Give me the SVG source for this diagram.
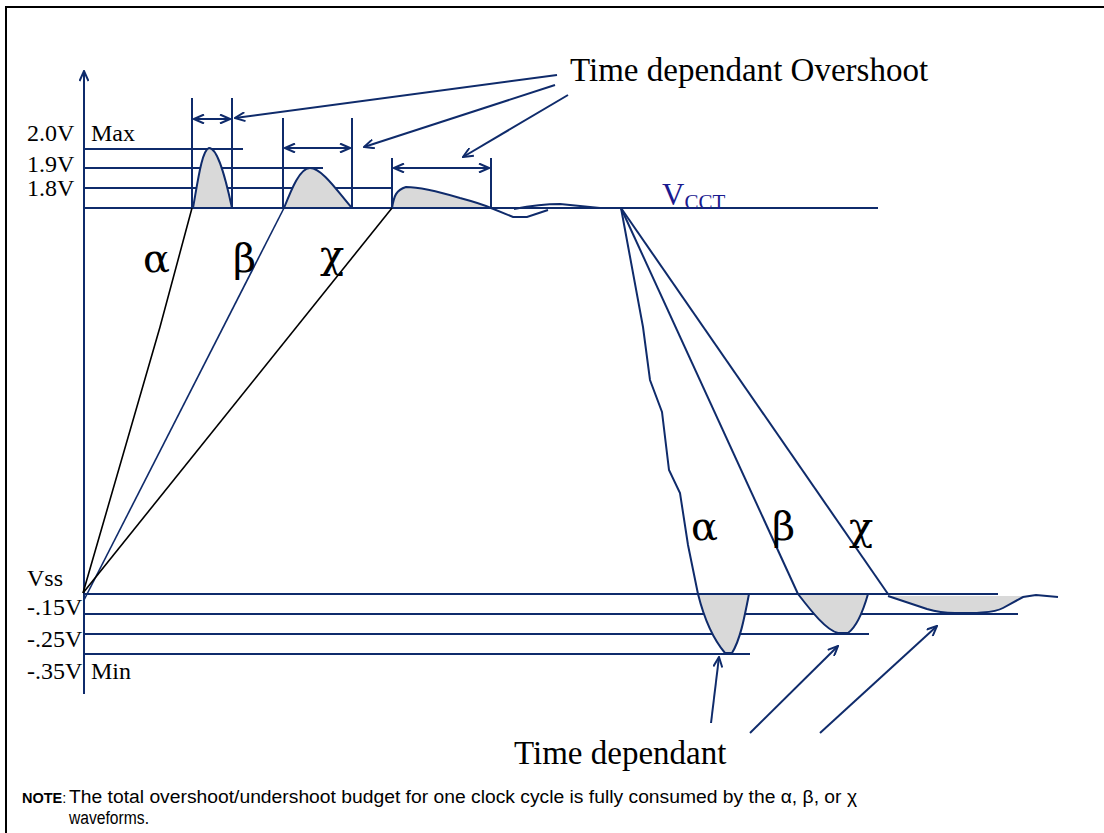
<svg xmlns="http://www.w3.org/2000/svg" width="1104" height="833" viewBox="0 0 1104 833">
<defs>
<marker id="ah" viewBox="0 0 12 10" refX="11" refY="5" markerWidth="12" markerHeight="10" markerUnits="userSpaceOnUse" orient="auto-start-reverse">
<path d="M1,0.5 L11,5 L1,9.5" fill="none" stroke="#0f2b6b" stroke-width="2"/>
</marker>
<style>
.ln{stroke:#0f2b6b;stroke-width:2;fill:none}
.blk{stroke:#000;stroke-width:1.6;fill:none}
.wave{stroke:#0f2b6b;stroke-width:2;fill:#d9d9d9}
.arr{stroke:#0f2b6b;stroke-width:2;fill:none;marker-end:url(#ah)}
.darr{stroke:#0f2b6b;stroke-width:2;fill:none;marker-end:url(#ah);marker-start:url(#ah)}
.lab{font-family:"Liberation Serif","Times New Roman",serif;font-size:24px;fill:#000}
.greek{font-family:"DejaVu Serif","Liberation Serif",serif;font-size:40px;fill:#000}
.big{font-family:"Liberation Serif","Times New Roman",serif;font-size:33px;fill:#000}
.note{font-family:"Liberation Sans",Arial,sans-serif;font-size:18px;fill:#000}
</style>
</defs>
<rect width="1104" height="833" fill="#fff"/>
<g id="frame">
<path d="M6,833 L6,7 L1104,7" fill="none" stroke="#000" stroke-width="2"/>
</g>
<g id="axes">
<line class="arr" x1="84" y1="694" x2="84" y2="71"/>
<line class="ln" x1="84" y1="149" x2="243" y2="149"/>
<line class="ln" x1="84" y1="168" x2="323" y2="168"/>
<line class="ln" x1="84" y1="188" x2="392" y2="188"/>
<line class="ln" x1="84" y1="208" x2="878" y2="208"/>
<line class="ln" x1="84" y1="594" x2="998" y2="594"/>
<line class="ln" x1="84" y1="614" x2="1018" y2="614"/>
<line class="ln" x1="84" y1="634" x2="869" y2="634"/>
<line class="ln" x1="84" y1="654" x2="750" y2="654"/>
</g>
<g id="labels">
<text class="lab" x="27" y="141">2.0V</text>
<text class="lab" x="91" y="141">Max</text>
<text class="lab" x="27" y="172">1.9V</text>
<text class="lab" x="27" y="196">1.8V</text>
<text class="lab" x="27" y="586">Vss</text>
<text class="lab" x="27" y="615">-.15V</text>
<text class="lab" x="27" y="647">-.25V</text>
<text class="lab" x="27" y="679">-.35V</text>
<text class="lab" x="91" y="679">Min</text>
<text x="662" y="205" font-family="'Liberation Serif','Times New Roman',serif" font-size="31" fill="#1a1a8f">V<tspan font-size="21" dy="4">CCT</tspan></text>
</g>
<g id="overshoot-waves">
<path class="wave" d="M193,208 C198,180 202,150 209,148 C218,148 226,180 232,208 Z"/>
<path class="wave" d="M284,208 C292,188 300,168 310,168 C322,168 338,192 352,208 Z"/>
<path class="wave" d="M392,208 C394,196 396,190 406,187 C420,187 440,192 460,198 C475,202 484,205 491,208 Z"/>
<path class="ln" d="M491,208 L513,217 L527,217 L548,210"/>
<path class="ln" d="M514,209 Q540,204 560,204 L600,208 L621,208"/>
<line class="ln" x1="192" y1="98" x2="192" y2="208"/>
<line class="ln" x1="232" y1="98" x2="232" y2="208"/>
<line class="ln" x1="283" y1="118" x2="283" y2="208"/>
<line class="ln" x1="352" y1="118" x2="352" y2="208"/>
<line class="ln" x1="392" y1="158" x2="392" y2="208"/>
<line class="ln" x1="491" y1="158" x2="491" y2="208"/>
</g>
<g id="rising-edges">
<path class="blk" d="M83,593 L160,327 L192,208"/>
<path class="ln" style="stroke-width:1.6" d="M84,600 L284,208"/>
<path class="blk" d="M83,593 L392,208"/>
<text class="greek" x="143" y="272">α</text>
<text class="greek" x="233" y="272">β</text>
<text class="greek" x="320" y="268">χ</text>
</g>
<g id="falling-edges">
<path class="ln" d="M621,208 L643,327 L650,380 L662,412 L669,470 L680,493 L688,545 L698,594"/>
<path class="ln" d="M621,208 L798,594"/>
<path class="ln" d="M621,208 L888,594"/>
<text class="greek" x="691" y="540">α</text>
<text class="greek" x="772" y="540">β</text>
<text class="greek" x="849" y="540">χ</text>
</g>
<g id="undershoot-waves">
<path class="wave" d="M698,594 C704,618 714,640 725,653 L732,653 C740,640 744,620 749,594 Z"/>
<path class="wave" d="M798,594 C812,612 826,630 838,633 L848,633 C855,628 862,615 868,594 Z"/>
<path class="wave" d="M888,596 L927,609 C937,612 945,613 955,613 L977,613 C988,612 996,612 1003,608 L1022,598 L1022,596 Z" style="stroke:none"/>
<path class="ln" d="M888,596 L927,609 C937,612 945,613 955,613 L977,613 C988,612 996,612 1003,608 L1023,597 L1036,595 L1058,597"/>
</g>
<g id="connectors">
<line class="darr" x1="194" y1="119" x2="230" y2="119"/>
<line class="darr" x1="285" y1="148" x2="350" y2="148"/>
<line class="darr" x1="394" y1="168" x2="489" y2="168"/>
<line class="arr" x1="557" y1="75" x2="235" y2="118"/>
<line class="arr" x1="555" y1="85" x2="364" y2="147"/>
<line class="arr" x1="568" y1="95" x2="463" y2="157"/>
<line class="arr" x1="711" y1="723" x2="719" y2="657"/>
<line class="arr" x1="750" y1="733" x2="838" y2="646"/>
<line class="arr" x1="820" y1="733" x2="937" y2="626"/>
</g>
<g id="titles">
<text class="big" x="570" y="81">Time dependant Overshoot</text>
<text class="big" x="514" y="764">Time dependant</text>
</g>
<g id="note">
<text class="note" x="22" y="803" style="font-size:14.5px"><tspan font-weight="bold">NOTE</tspan>:</text>
<text class="note" x="69" y="803" textLength="788" lengthAdjust="spacingAndGlyphs">The total overshoot/undershoot budget for one clock cycle is fully consumed by the α, β, or χ</text>
<text class="note" x="69" y="824" textLength="80" lengthAdjust="spacingAndGlyphs">waveforms.</text>
</g>
</svg>
